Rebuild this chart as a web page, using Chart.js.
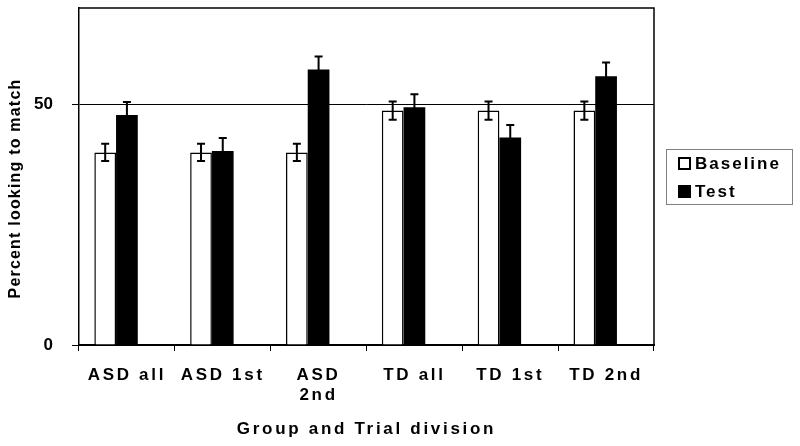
<!DOCTYPE html>
<html>
<head>
<meta charset="utf-8">
<script src="https://cdn.jsdelivr.net/npm/chart.js@4/dist/chart.umd.min.js"></script>
<style>
  html, body { margin: 0; padding: 0; background: #fff; }
  canvas { display: block; }
</style>
</head>
<body>
<canvas id="chart" width="800" height="446"></canvas>
<script>
// categories and values
const categories = ['ASD all', 'ASD 1st', ['ASD', '2nd'], 'TD all', 'TD 1st', 'TD 2nd'];
const baseline = [40, 40, 40, 48.7, 48.7, 48.7];
const baselineErr = [1.8, 1.8, 1.8, 1.9, 1.9, 1.9];
const test = [47.8, 40.3, 57.2, 49.4, 43.1, 55.8];
const testErr = [2.7, 2.7, 2.7, 2.7, 2.6, 2.9];
// empty third series, keeps the bars to the left of each category like the original
const spacer = categories.map(() => null);
const yTicks = [0, 50];

const FONT = "'Liberation Sans', Arial, sans-serif";
Chart.defaults.font.family = FONT;
Chart.defaults.color = '#000';

// run a scale method with a given letter spacing
function spaced(scale, name, px) {
    if (scale['_sp_' + name]) return;
    const orig = scale[name];
    scale[name] = function (...a) {
        const old = this.ctx.letterSpacing;
        this.ctx.letterSpacing = px;
        const r = orig.apply(this, a);
        this.ctx.letterSpacing = old;
        return r;
    };
    scale['_sp_' + name] = true;
}

// error bars
const errorBarPlugin = {
    id: 'errorBars',
    afterDatasetsDraw(chart) {
        const ctx = chart.ctx;
        const y = chart.scales.y;
        ctx.save();
        ctx.strokeStyle = '#000';
        ctx.lineWidth = 2;
        chart.data.datasets.forEach((ds, di) => {
            if (!ds.errors) return;
            chart.getDatasetMeta(di).data.forEach((bar, i) => {
                const v = ds.data[i];
                const top = y.getPixelForValue(v + ds.errors[i]);
                const bot = y.getPixelForValue(v - ds.errors[i]);
                ctx.beginPath();
                ctx.moveTo(bar.x, top); ctx.lineTo(bar.x, bot);
                ctx.moveTo(bar.x - 4, top); ctx.lineTo(bar.x + 4, top);
                ctx.moveTo(bar.x - 4, bot); ctx.lineTo(bar.x + 4, bot);
                ctx.stroke();
            });
        });
        ctx.restore();
    }
};

// plot frame, y title and boxed legend
const framePlugin = {
    id: 'frame',
    afterDraw(chart) {
        const ctx = chart.ctx;
        const a = chart.chartArea;
        ctx.save();
        ctx.strokeStyle = '#000';
        ctx.lineWidth = 1.5;
        ctx.beginPath();
        ctx.moveTo(a.left, a.top); ctx.lineTo(a.right, a.top); ctx.lineTo(a.right, a.bottom);
        ctx.stroke();

        // y axis title
        ctx.save();
        ctx.translate(16, (a.top + a.bottom) / 2 + 12);
        ctx.rotate(-Math.PI / 2);
        ctx.font = 'bold 16px ' + FONT;
        ctx.letterSpacing = '1.2px';
        ctx.textAlign = 'center';
        ctx.textBaseline = 'middle';
        ctx.fillStyle = '#000';
        ctx.fillText('Percent looking to match', 0, 0);
        ctx.restore();

        // legend
        const items = chart.data.datasets.filter(d => d.label);
        const bx = a.right + 12, bw = 126, bh = 55;
        const by = Math.round((a.top + a.bottom) / 2 - bh / 2);
        ctx.strokeStyle = '#808080';
        ctx.lineWidth = 1;
        ctx.strokeRect(bx + 0.5, by + 0.5, bw, bh);
        ctx.font = 'bold 17px ' + FONT;
        ctx.letterSpacing = '2px';
        ctx.textBaseline = 'middle';
        ctx.textAlign = 'left';
        items.forEach((d, i) => {
            const cy = by + 14 + i * 28;
            ctx.fillStyle = d.backgroundColor;
            ctx.fillRect(bx + 13, cy - 5, 11, 11);
            ctx.strokeStyle = '#000';
            ctx.lineWidth = 2;
            ctx.strokeRect(bx + 13, cy - 5, 11, 11);
            ctx.fillStyle = '#000';
            ctx.fillText(d.label, bx + 29, cy + 1);
        });
        ctx.restore();
    }
};

const tickFont = { size: 17, weight: 'bold', family: FONT };

new Chart(document.getElementById('chart'), {
    type: 'bar',
    data: {
        labels: categories,
        datasets: [
            { label: 'Baseline', data: baseline, errors: baselineErr, backgroundColor: '#ffffff', borderColor: '#000', borderWidth: 1.5 },
            { label: 'Test', data: test, errors: testErr, backgroundColor: '#000000', borderColor: '#000', borderWidth: 0 },
            { label: '', data: spacer, backgroundColor: 'rgba(0,0,0,0)' }
        ]
    },
    options: {
        responsive: false,
        animation: false,
        devicePixelRatio: 1,
        categoryPercentage: 0.68,
        barPercentage: 1,
        layout: { padding: { top: 8, right: 146, left: 0, bottom: 0 } },
        plugins: { legend: { display: false }, tooltip: { enabled: false } },
        scales: {
            x: {
                grid: { drawOnChartArea: false, offset: true, color: '#000', tickLength: 6, lineWidth: 1 },
                border: { color: '#000', width: 2 },
                ticks: { color: '#000', font: tickFont, padding: 14, maxRotation: 0, autoSkip: false },
                title: { display: true, text: 'Group and Trial division', color: '#000', font: tickFont, padding: { top: 0, bottom: 6 } },
                afterFit(s) {
                    s.height = 101;
                    s.paddingLeft = 0; s.paddingRight = 0;
                    spaced(s, 'drawLabels', '2.7px');
                    spaced(s, 'drawTitle', '2.7px');
                }
            },
            y: {
                min: 0,
                max: 70,
                afterBuildTicks(s) { s.ticks = yTicks.map(v => ({ value: v })); },
                grid: { color: '#000', tickLength: 7, lineWidth: 1 },
                border: { color: '#000', width: 1.5 },
                ticks: { color: '#000', font: { size: 17, weight: 'bold', family: FONT }, padding: 19 },
                afterFit(s) {
                    s.width = 79;
                    s.paddingTop = 0; s.paddingBottom = 0;
                }
            }
        }
    },
    plugins: [errorBarPlugin, framePlugin]
});
</script>
</body>
</html>
